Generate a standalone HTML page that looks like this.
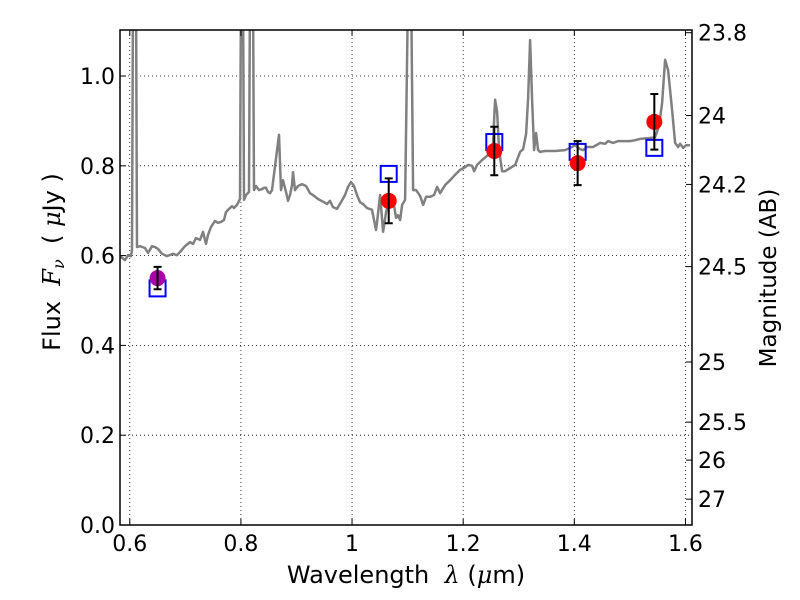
<!DOCTYPE html>
<html><head><meta charset="utf-8"><style>
html,body{margin:0;padding:0;background:#fff;}
svg{display:block;font-family:"DejaVu Sans","Liberation Sans",sans-serif;}
</style></head><body>
<svg id="chart" width="800" height="600" viewBox="0 0 800 600"></svg>
<script>
// spectrum data (wavelength um, flux uJy)
const specWave = [0.5824,0.5914,0.5968,0.6022,0.6040,0.6058,0.6112,0.6130,0.6184,0.6274,0.6328,0.6400,0.6454,0.6508,0.6580,0.6670,0.6778,0.6850,0.6904,0.6994,0.7084,0.7138,0.7192,0.7264,0.7318,0.7372,0.7408,0.7462,0.7534,0.7588,0.7642,0.7696,0.7732,0.7786,0.7840,0.7876,0.7930,0.7984,0.8002,0.8038,0.8056,0.8092,0.8146,0.8164,0.8218,0.8236,0.8272,0.8326,0.8380,0.8416,0.8452,0.8488,0.8524,0.8560,0.8686,0.8722,0.8758,0.8812,0.8848,0.8884,0.8920,0.8938,0.8974,0.9028,0.9100,0.9172,0.9244,0.9316,0.9388,0.9496,0.9550,0.9604,0.9658,0.9730,0.9802,0.9874,0.9928,0.9982,1.0036,1.0090,1.0144,1.0198,1.0270,1.0360,1.0432,1.0450,1.0504,1.0558,1.0612,1.0684,1.0738,1.0792,1.0828,
1.0864,1.0900,1.0954,1.1008,1.1062,1.1098,1.1152,1.1224,1.1278,1.1332,1.1404,1.1476,1.1530,1.1584,1.1674,1.1764,1.1854,1.1944,1.2034,1.2088,1.2160,1.2196,1.2250,1.2340,1.2448,1.2520,1.2538,1.2574,1.2610,1.2646,1.2700,1.2754,1.2844,1.2934,1.3024,1.3078,1.3132,1.3168,1.3204,1.3240,1.3276,1.3312,1.3348,1.3384,1.3474,1.3654,1.3834,1.3924,1.4014,1.4104,1.4158,1.4230,1.4338,1.4464,1.4554,1.4608,1.4698,1.4788,1.4914,1.5004,1.5094,1.5184,1.5364,1.5454,1.5526,1.5580,1.5634,1.5688,1.5760,1.5814,1.5868,1.5904,1.5958,1.6012,1.6084];
const specFlux = [0.599,0.590,0.601,0.599,0.612,1.2,1.2,0.619,0.621,0.617,0.606,0.621,0.619,0.615,0.604,0.599,0.604,0.601,0.608,0.621,0.630,0.626,0.639,0.635,0.653,0.626,0.646,0.664,0.677,0.673,0.675,0.679,0.697,0.704,0.710,0.706,0.713,0.726,1.2,1.2,0.724,0.735,0.742,1.2,1.2,0.746,0.755,0.746,0.748,0.751,0.751,0.742,0.739,0.746,0.869,0.746,0.768,0.742,0.722,0.735,0.757,0.786,0.746,0.755,0.759,0.755,0.739,0.733,0.726,0.719,0.715,0.722,0.708,0.704,0.719,0.735,0.753,0.764,0.755,0.735,0.719,0.715,0.706,0.702,0.657,0.673,0.735,0.653,0.697,0.735,0.724,0.684,0.690,
0.679,0.713,0.724,1.2,1.2,0.746,0.746,0.733,0.713,0.731,0.731,0.735,0.753,0.739,0.757,0.768,0.780,0.791,0.797,0.802,0.800,0.788,0.802,0.813,0.824,0.833,0.853,0.947,0.920,0.835,0.788,0.788,0.795,0.802,0.831,0.837,0.871,0.950,1.080,0.947,0.835,0.873,0.835,0.831,0.833,0.833,0.835,0.840,0.846,0.837,0.835,0.842,0.842,0.851,0.849,0.855,0.851,0.855,0.855,0.855,0.857,0.860,0.862,0.864,0.889,0.940,1.036,1.013,0.924,0.851,0.842,0.849,0.840,0.846,0.846];
// photometry
const photWave = [0.650,1.066,1.256,1.406,1.544];
const photFlux = [0.550,0.722,0.833,0.806,0.898];
const photErr = [0.025,0.050,0.054,0.049,0.062];
const modelFlux = [0.527,0.782,0.853,0.831,0.840];
const xTicks = [0.6,0.8,1.0,1.2,1.4,1.6];
const xTickLabels = ["0.6","0.8","1","1.2","1.4","1.6"];
const yTicks = [0,0.2,0.4,0.6,0.8,1.0];
const yTickLabels = ["0.0","0.2","0.4","0.6","0.8","1.0"];
const magTicks = [23.8,24,24.2,24.5,25,25.5,26,27];
const magTickLabels = ["23.8","24","24.2","24.5","25","25.5","26","27"];

const L=120,R=692,T=30,B=525;
const xmin=0.5824,xmax=1.6118,ymin=0,ymax=1.1025;
function X(v){return L+(v-xmin)/(xmax-xmin)*(R-L);}
function Y(v){return B-(v-ymin)/(ymax-ymin)*(B-T);}
function magToFlux(m){return Math.pow(10,(23.9-m)/2.5);}
const NS="http://www.w3.org/2000/svg";
const svg=document.getElementById('chart');
function mk(tag,attrs,parent){const e=document.createElementNS(NS,tag);for(const k in attrs)e.setAttribute(k,attrs[k]);(parent||svg).appendChild(e);return e;}

const defs=mk('defs',{});
const cp=mk('clipPath',{id:'clip'},defs);
mk('rect',{x:L,y:T,width:R-L,height:B-T},cp);

const grid=mk('g',{});


xTicks.forEach(v=>{const l=mk('line',{x1:X(v),x2:X(v),y1:T,y2:B,stroke:'#000','stroke-width':0.8,'stroke-dasharray':'1,3'},grid);

});
yTicks.forEach(v=>{const l=mk('line',{x1:L,x2:R,y1:Y(v),y2:Y(v),stroke:'#000','stroke-width':0.8,'stroke-dasharray':'1,3'},grid);

});

const pg=mk('g',{'clip-path':'url(#clip)'});
let d='';specWave.forEach((w,i)=>{d+=(i?'L':'M')+X(w).toFixed(1)+','+Y(specFlux[i]).toFixed(1);});
const sp=mk('path',{d:d,fill:'none',stroke:'#808080','stroke-width':2.5,'stroke-linejoin':'round'},pg);



photWave.forEach((w,i)=>{const r=mk('rect',{x:X(w)-8,y:Y(modelFlux[i])-8,width:16,height:16,fill:'none',stroke:'#0000ff','stroke-width':2},pg);

});
photWave.forEach((w,i)=>{const c=mk('circle',{cx:X(w),cy:Y(photFlux[i]),r:8,fill:i===0?'#aa00aa':'#ff0000'},pg);


const x=X(w),y1=Y(photFlux[i]+photErr[i]),y2=Y(photFlux[i]-photErr[i]);
const e=mk('path',{d:`M${x},${y1}L${x},${y2}M${x-4},${y1}L${x+4},${y1}M${x-4},${y2}L${x+4},${y2}`,stroke:'#000','stroke-width':2,fill:'none'},pg);

});

const fr=mk('rect',{x:L,y:T,width:R-L,height:B-T,fill:'none',stroke:'#000','stroke-width':1.5});



xTicks.forEach((v,i)=>{mk('line',{x1:X(v),x2:X(v),y1:B,y2:B-6,stroke:'#000'});mk('line',{x1:X(v),x2:X(v),y1:T,y2:T+6,stroke:'#000'});
const t=mk('text',{x:X(v),y:B+26,'text-anchor':'middle','font-size':22});t.textContent=xTickLabels[i];

});
yTicks.forEach((v,i)=>{mk('line',{x1:L,x2:L+6,y1:Y(v),y2:Y(v),stroke:'#000'});
const t=mk('text',{x:L-5,y:Y(v)+8,'text-anchor':'end','font-size':22});t.textContent=yTickLabels[i];

});
magTicks.forEach((m,i)=>{const y=Y(magToFlux(m));mk('line',{x1:R,x2:R-6,y1:y,y2:y,stroke:'#000'});
const t=mk('text',{x:R+6,y:y+8,'font-size':22});t.textContent=magTickLabels[i];

});
</script>
<svg style="position:absolute;left:0;top:0" width="800" height="600">
<text x="406" y="583" text-anchor="middle" font-size="24" font-family="DejaVu Sans,Liberation Sans,sans-serif" xml:space="preserve">Wavelength  <tspan font-family="DejaVu Serif,Liberation Serif,serif" font-style="italic">λ</tspan> (<tspan font-family="DejaVu Serif,Liberation Serif,serif" font-style="italic">μ</tspan>m)</text>
<text transform="translate(60,262) rotate(-90)" text-anchor="middle" font-size="24" font-family="DejaVu Sans,Liberation Sans,sans-serif" xml:space="preserve">Flux  <tspan font-family="DejaVu Serif,Liberation Serif,serif" font-style="italic">F<tspan font-size="16" dy="4">ν</tspan></tspan><tspan dy="-4">  ( </tspan><tspan font-family="DejaVu Serif,Liberation Serif,serif" font-style="italic">μ</tspan>Jy )</text>
<text transform="translate(776,278) rotate(-90)" text-anchor="middle" font-size="23" font-family="DejaVu Sans,Liberation Sans,sans-serif">Magnitude (AB)</text>
</svg>
</body></html>
